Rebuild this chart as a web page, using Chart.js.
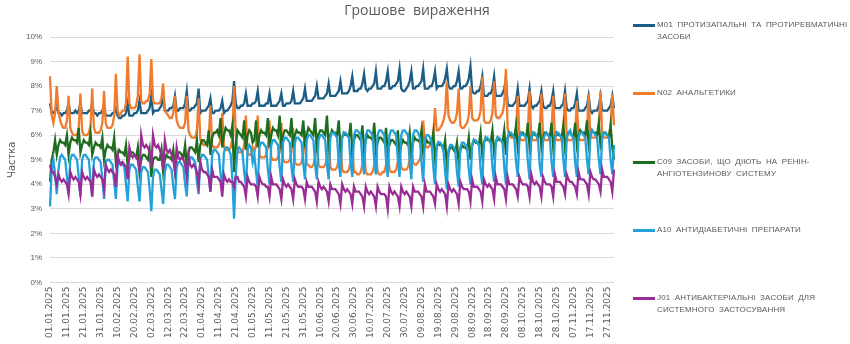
<!DOCTYPE html>
<html lang="uk">
<head>
<meta charset="utf-8">
<title>Грошове вираження</title>
<script src="https://cdn.jsdelivr.net/npm/chart.js@4.4.1/dist/chart.umd.min.js"></script>
<style>
  body { margin: 0; background: #fff; }
  #wrap { position: relative; width: 850px; height: 344px; color: #595959; font-family: "Liberation Sans", sans-serif; }
  #title { position: absolute; top: 0; left: 0; width: 834px; text-align: center; font: 14px "Open Sans", sans-serif; word-spacing: 4px; color: #595959; }
  .leg { position: absolute; left: 633px; font-size: 8px; letter-spacing: 0.15px; word-spacing: 2px; line-height: 12px; }
  .leg i { position: absolute; left: 0; top: 5px; width: 22px; height: 2.5px; }
  .leg span { display: block; margin-left: 24px; white-space: nowrap; }
</style>
</head>
<body>
<div id="wrap">
  <canvas id="shareChart" width="850" height="344"></canvas>
  <div id="title">Грошове вираження</div>
</div>
<script>
// Daily share of money turnover by ATC group, 01.01.2025 - 01.12.2025
const startDay = Date.UTC(2025, 0, 1);
const dayCount = 335;
const days = [];
for (let i = 0; i < dayCount; i++) {
  const d = new Date(startDay + i * 86400000);
  const dd = String(d.getUTCDate()).padStart(2, '0');
  const mm = String(d.getUTCMonth() + 1).padStart(2, '0');
  days.push(dd + '.' + mm + '.' + d.getUTCFullYear());
}

const yTicks = [0, 1, 2, 3, 4, 5, 6, 7, 8, 9, 10];

const seriesNames = [
  ['M01 ПРОТИЗАПАЛЬНІ ТА ПРОТИРЕВМАТИЧНІ', 'ЗАСОБИ'],
  ['N02 АНАЛЬГЕТИКИ'],
  ['C09 ЗАСОБИ, ЩО ДІЮТЬ НА РЕНІН-', 'АНГІОТЕНЗИНОВУ СИСТЕМУ'],
  ['A10 АНТИДІАБЕТИЧНІ ПРЕПАРАТИ'],
  ['J01 АНТИБАКТЕРІАЛЬНІ ЗАСОБИ ДЛЯ', 'СИСТЕМНОГО ЗАСТОСУВАННЯ']
];
const seriesColors = ['#1c5d85', '#f07b2c', '#1e6c1e', '#22a1db', '#9a2c96'];

// one row per week (Mon..Sun), first row starts on Wed 01.01
const m01 = [
  7.3, 6.9, 6.9, 7.0, 7.2,
  6.9, 6.9, 6.8, 6.9, 6.9, 7.0, 7.3,
  6.9, 6.9, 6.9, 7.0, 6.9, 7.0, 7.3,
  6.9, 6.9, 6.9, 6.9, 7.0, 7.0, 7.3,
  6.9, 6.9, 6.8, 6.9, 6.9, 7.0, 7.2,
  6.8, 6.8, 6.8, 6.8, 6.9, 6.9, 7.1,
  6.8, 6.7, 6.7, 6.8, 6.8, 6.9, 7.3,
  6.8, 6.8, 6.8, 6.9, 6.9, 7.0, 7.4,
  6.9, 6.9, 6.9, 6.9, 7.0, 7.1, 7.6,
  6.9, 7.0, 7.0, 7.0, 7.1, 7.2, 7.7,
  7.0, 7.0, 7.0, 7.1, 7.1, 7.2, 7.6,
  7.0, 7.0, 7.1, 7.1, 7.1, 7.3, 7.8,
  7.0, 7.0, 7.1, 7.1, 7.2, 7.3, 7.9,
  6.9, 7.0, 7.0, 7.0, 7.1, 7.2, 7.5,
  6.9, 6.9, 7.0, 7.0, 7.0, 7.1, 7.4,
  6.9, 7.0, 7.0, 7.1, 7.2, 7.4, 8.2,
  7.3, 7.1, 7.1, 7.2, 7.2, 7.3, 7.7,
  7.2, 7.2, 7.2, 7.3, 7.3, 7.4, 7.8,
  7.2, 7.2, 7.2, 7.2, 7.3, 7.3, 7.7,
  7.2, 7.2, 7.2, 7.2, 7.3, 7.4, 7.7,
  7.2, 7.2, 7.3, 7.3, 7.3, 7.4, 7.8,
  7.3, 7.3, 7.3, 7.3, 7.4, 7.5, 7.9,
  7.4, 7.4, 7.4, 7.4, 7.5, 7.6, 8.0,
  7.5, 7.5, 7.5, 7.5, 7.6, 7.7, 8.1,
  7.6, 7.6, 7.6, 7.6, 7.7, 7.8, 8.2,
  7.7, 7.7, 7.7, 7.7, 7.8, 8.0, 8.4,
  7.8, 7.8, 7.8, 7.9, 7.9, 8.1, 8.5,
  7.9, 7.8, 7.9, 7.9, 8.0, 8.1, 8.6,
  7.9, 7.9, 7.9, 8.0, 8.0, 8.2, 8.6,
  7.9, 7.9, 8.0, 8.0, 8.1, 8.2, 8.7,
  7.9, 7.8, 7.8, 7.9, 8.0, 8.2, 8.6,
  7.9, 7.9, 8.0, 8.0, 8.1, 8.2, 8.7,
  7.9, 7.9, 7.9, 8.0, 8.0, 8.2, 8.6,
  7.9, 8.0, 8.0, 8.0, 8.1, 8.3, 8.7,
  8.0, 7.9, 7.9, 8.0, 8.0, 8.2, 8.6,
  7.9, 7.9, 8.0, 8.0, 8.1, 8.3, 8.8,
  7.8, 7.7, 7.7, 7.8, 7.8, 8.0, 8.4,
  7.6, 7.6, 7.6, 7.7, 7.7, 7.9, 8.4,
  7.6, 7.6, 7.6, 7.6, 7.7, 7.9, 8.3,
  7.3, 7.2, 7.2, 7.2, 7.3, 7.4, 7.9,
  7.2, 7.2, 7.2, 7.2, 7.3, 7.4, 7.9,
  7.2, 7.1, 7.2, 7.2, 7.3, 7.4, 7.8,
  7.2, 7.1, 7.1, 7.2, 7.2, 7.4, 7.8,
  7.1, 7.1, 7.1, 7.1, 7.2, 7.3, 7.8,
  7.1, 7.0, 7.0, 7.1, 7.1, 7.3, 7.7,
  7.0, 7.0, 7.0, 7.0, 7.1, 7.2, 7.6,
  7.0, 6.9, 7.0, 7.0, 7.0, 7.2, 7.6,
  7.0, 7.0, 7.0, 7.0, 7.1, 7.2, 7.6,
  7.1
];

const n02 = [
  8.4, 6.8, 6.5, 6.9, 8.0,
  7.0, 6.6, 6.4, 6.3, 6.3, 6.6, 7.6,
  6.3, 6.1, 6.0, 6.0, 6.0, 6.3, 7.7,
  6.2, 6.0, 6.0, 6.0, 6.1, 6.4, 7.9,
  6.3, 6.1, 6.1, 6.1, 6.2, 6.5, 7.8,
  6.5, 6.3, 6.3, 6.3, 6.4, 6.8, 8.5,
  7.0, 6.8, 6.9, 7.0, 7.0, 7.3, 9.2,
  7.3, 7.1, 7.1, 7.1, 7.2, 7.6, 9.3,
  7.4, 7.3, 7.3, 7.4, 7.4, 7.7, 9.1,
  7.4, 7.3, 7.3, 7.3, 7.3, 7.5, 8.1,
  7.0, 6.9, 6.8, 6.7, 6.7, 6.9, 7.6,
  6.6, 6.4, 6.3, 6.3, 6.3, 6.5, 7.6,
  6.2, 6.0, 5.9, 5.9, 5.9, 6.2, 7.5,
  5.8, 5.7, 5.6, 5.6, 5.7, 5.9, 7.2,
  5.6, 5.5, 5.5, 5.5, 5.6, 5.8, 6.9,
  5.5, 5.4, 5.4, 5.4, 5.5, 5.9, 8.0,
  6.0, 5.4, 5.3, 5.3, 5.3, 5.6, 6.8,
  5.3, 5.2, 5.2, 5.5, 5.3, 5.6, 6.8,
  5.2, 5.1, 5.1, 5.1, 5.2, 5.5, 6.6,
  5.1, 5.0, 5.0, 5.0, 5.1, 5.4, 6.5,
  5.0, 4.9, 4.9, 4.9, 5.0, 5.3, 6.3,
  4.9, 4.8, 4.8, 4.8, 4.9, 5.2, 6.2,
  4.8, 4.8, 4.7, 4.7, 4.8, 5.1, 6.1,
  4.8, 4.7, 4.7, 4.7, 4.8, 5.0, 5.9,
  4.7, 4.6, 4.6, 4.6, 4.7, 5.0, 5.8,
  4.6, 4.5, 4.5, 4.5, 4.6, 4.9, 5.6,
  4.5, 4.5, 4.4, 4.4, 4.5, 4.8, 5.5,
  4.5, 4.4, 4.4, 4.4, 4.5, 4.8, 5.4,
  4.5, 4.4, 4.4, 4.5, 4.5, 4.8, 5.4,
  4.6, 4.5, 4.5, 4.5, 4.6, 4.9, 5.3,
  4.7, 4.6, 4.6, 4.6, 4.7, 5.0, 5.4,
  4.9, 4.8, 4.8, 4.9, 5.0, 5.4, 6.6,
  5.6, 5.5, 5.5, 5.6, 5.7, 6.0, 7.1,
  6.2, 6.2, 6.3, 6.4, 6.6, 6.9, 8.2,
  6.8, 6.6, 6.5, 6.5, 6.6, 6.9, 7.9,
  6.4, 6.3, 6.3, 6.4, 6.5, 6.8, 8.0,
  6.7, 6.6, 6.6, 6.6, 6.7, 7.0, 8.4,
  6.6, 6.5, 6.5, 6.5, 6.6, 6.9, 8.2,
  6.8, 6.7, 6.7, 6.8, 6.9, 7.3, 8.7,
  6.3, 6.0, 5.9, 5.9, 5.9, 6.2, 7.6,
  5.9, 5.8, 5.8, 5.8, 5.9, 6.2, 7.8,
  5.9, 5.8, 5.8, 5.8, 5.9, 6.2, 7.7,
  5.9, 5.8, 5.8, 5.8, 5.9, 6.2, 7.6,
  5.9, 5.8, 5.8, 5.8, 5.9, 6.2, 7.7,
  5.9, 5.8, 5.8, 5.8, 5.9, 6.1, 7.4,
  5.9, 5.8, 5.8, 5.8, 5.9, 6.2, 7.7,
  5.9, 5.9, 5.9, 5.9, 6.0, 6.3, 7.8,
  6.0, 5.9, 5.9, 5.9, 6.0, 6.4, 7.7,
  6.4
];

const c09 = [
  4.1, 5.0, 5.3, 5.8, 5.2,
  5.6, 5.8, 5.7, 5.7, 5.6, 6.0, 5.2,
  5.7, 5.9, 5.8, 5.8, 5.7, 6.3, 5.3,
  5.6, 5.8, 5.7, 5.7, 5.6, 6.1, 5.2,
  5.5, 5.7, 5.6, 5.6, 5.5, 5.9, 5.0,
  5.4, 5.6, 5.5, 5.5, 5.4, 5.9, 4.9,
  5.2, 5.4, 5.3, 5.3, 5.2, 5.6, 4.7,
  5.1, 5.3, 5.3, 5.2, 5.1, 5.5, 4.5,
  5.0, 5.2, 5.2, 5.1, 5.0, 5.4, 4.3,
  5.0, 5.1, 5.1, 5.0, 5.0, 5.4, 4.5,
  5.0, 5.2, 5.1, 5.1, 5.0, 5.4, 4.6,
  5.1, 5.3, 5.3, 5.2, 5.1, 5.6, 4.7,
  5.3, 5.5, 5.5, 5.4, 5.3, 5.8, 4.9,
  5.6, 5.8, 5.8, 5.7, 5.6, 6.2, 5.2,
  5.9, 6.1, 6.1, 6.2, 6.0, 6.7, 5.5,
  6.0, 6.3, 6.2, 6.2, 6.0, 6.4, 4.5,
  5.6, 6.2, 6.1, 6.0, 5.9, 6.6, 5.4,
  6.0, 6.2, 6.1, 5.7, 5.8, 6.6, 5.5,
  6.0, 6.2, 6.1, 6.1, 6.0, 6.7, 5.5,
  6.0, 6.3, 6.2, 6.2, 6.0, 6.8, 5.6,
  6.0, 6.2, 6.2, 6.1, 6.0, 6.7, 5.5,
  6.0, 6.2, 6.1, 6.1, 6.0, 6.6, 5.5,
  6.0, 6.3, 6.2, 6.1, 6.0, 6.7, 5.6,
  6.0, 6.2, 6.2, 6.1, 6.0, 6.8, 5.6,
  6.0, 6.2, 6.1, 6.1, 6.0, 6.6, 5.5,
  5.9, 6.1, 6.0, 6.0, 5.9, 6.5, 5.4,
  5.8, 6.0, 6.0, 5.9, 5.8, 6.4, 5.4,
  5.8, 6.0, 5.9, 5.9, 5.8, 6.5, 5.4,
  5.7, 5.9, 5.9, 5.8, 5.7, 6.3, 5.3,
  5.6, 5.8, 5.8, 5.7, 5.6, 6.2, 5.2,
  5.6, 5.8, 5.7, 5.7, 5.6, 6.1, 5.2,
  5.7, 5.9, 5.8, 5.8, 5.7, 6.2, 5.3,
  5.6, 5.8, 5.7, 5.7, 5.6, 6.1, 5.1,
  5.5, 5.7, 5.6, 5.6, 5.4, 5.8, 4.8,
  5.3, 5.5, 5.5, 5.4, 5.3, 5.7, 4.9,
  5.4, 5.6, 5.5, 5.5, 5.4, 5.9, 5.0,
  5.6, 5.8, 5.7, 5.7, 5.6, 6.1, 5.2,
  5.7, 5.9, 5.8, 5.8, 5.7, 6.2, 5.3,
  5.7, 5.9, 5.8, 5.8, 5.7, 6.2, 5.2,
  5.9, 6.1, 6.0, 6.0, 5.9, 6.4, 5.5,
  5.9, 6.1, 6.1, 6.0, 5.9, 6.5, 5.5,
  5.9, 6.1, 6.0, 6.0, 5.9, 6.5, 5.5,
  5.9, 6.1, 6.1, 6.0, 5.9, 6.5, 5.5,
  5.9, 6.1, 6.0, 6.0, 5.9, 6.4, 5.5,
  5.9, 6.1, 6.1, 6.0, 5.9, 6.5, 5.6,
  6.0, 6.2, 6.1, 6.1, 6.0, 6.6, 5.6,
  6.0, 6.2, 6.1, 6.1, 6.0, 6.5, 5.6,
  5.9, 6.1, 6.1, 6.0, 5.9, 6.4, 5.5,
  5.0
];

const a10 = [
  3.1, 4.6, 5.0, 4.4, 3.6,
  4.6, 5.1, 5.2, 5.1, 5.0, 4.3, 3.6,
  5.0, 5.2, 5.2, 5.1, 5.0, 4.3, 3.5,
  5.0, 5.2, 5.2, 5.1, 5.0, 4.2, 3.5,
  5.0, 5.1, 5.1, 5.0, 4.9, 4.2, 3.4,
  4.9, 5.0, 5.0, 4.9, 4.8, 4.1, 3.4,
  4.7, 4.9, 4.9, 4.8, 4.7, 4.0, 3.3,
  4.6, 4.8, 4.8, 4.7, 4.6, 3.9, 3.3,
  4.5, 4.7, 4.7, 4.6, 4.5, 3.8, 2.9,
  4.3, 4.6, 4.6, 4.5, 4.4, 3.8, 3.2,
  4.5, 4.8, 4.8, 4.7, 4.6, 3.9, 3.4,
  4.7, 4.9, 4.9, 4.8, 4.7, 4.0, 3.5,
  4.9, 5.1, 5.1, 5.0, 4.9, 4.1, 3.6,
  5.0, 5.2, 5.2, 5.1, 5.0, 4.3, 3.7,
  5.2, 5.4, 5.4, 5.3, 5.2, 4.4, 3.8,
  5.3, 5.5, 5.5, 5.4, 5.2, 4.2, 2.6,
  4.4, 5.4, 5.5, 5.4, 5.3, 4.5, 3.9,
  5.4, 5.6, 5.5, 4.9, 5.2, 4.5, 3.9,
  5.5, 5.7, 5.7, 5.6, 5.5, 4.6, 4.0,
  5.6, 5.8, 5.8, 5.7, 5.6, 4.7, 4.1,
  5.7, 5.9, 5.9, 5.8, 5.7, 4.7, 4.1,
  5.7, 5.9, 5.9, 5.8, 5.7, 4.8, 4.2,
  5.8, 6.0, 6.0, 5.9, 5.8, 4.8, 4.2,
  5.8, 6.0, 6.0, 5.9, 5.8, 4.8, 4.2,
  5.9, 6.1, 6.1, 6.0, 5.9, 4.9, 4.3,
  5.9, 6.1, 6.1, 6.0, 5.9, 4.9, 4.3,
  6.0, 6.2, 6.2, 6.1, 6.0, 5.0, 4.4,
  6.0, 6.2, 6.2, 6.1, 6.0, 5.0, 4.4,
  6.0, 6.2, 6.2, 6.1, 6.0, 5.0, 4.3,
  6.0, 6.2, 6.2, 6.1, 6.0, 5.0, 4.3,
  6.0, 6.2, 6.2, 6.1, 6.0, 4.9, 4.2,
  6.0, 6.2, 6.2, 6.1, 5.9, 4.9, 4.1,
  5.8, 6.0, 6.0, 5.9, 5.7, 4.7, 4.0,
  5.6, 5.7, 5.7, 5.6, 5.4, 4.5, 3.8,
  5.4, 5.6, 5.6, 5.5, 5.4, 4.5, 3.9,
  5.5, 5.7, 5.7, 5.6, 5.5, 4.6, 4.0,
  5.6, 5.8, 5.8, 5.7, 5.6, 4.6, 4.0,
  5.7, 5.9, 5.9, 5.8, 5.7, 4.7, 4.1,
  5.7, 5.9, 5.9, 5.8, 5.7, 4.7, 4.0,
  5.9, 6.1, 6.1, 6.0, 5.9, 4.9, 4.3,
  5.9, 6.1, 6.0, 6.0, 5.9, 4.9, 4.2,
  5.9, 6.1, 6.1, 6.0, 5.8, 4.8, 4.3,
  5.8, 6.0, 6.1, 6.0, 5.9, 4.9, 4.3,
  5.9, 6.1, 6.1, 6.0, 5.9, 5.0, 4.3,
  5.9, 6.1, 6.2, 6.0, 5.9, 4.9, 4.3,
  5.9, 6.1, 6.1, 6.0, 5.9, 5.0, 4.4,
  6.0, 6.2, 6.1, 6.0, 5.9, 5.0, 4.4,
  5.9, 6.1, 6.1, 6.0, 5.9, 5.0, 4.4,
  5.6
];

const j01 = [
  4.8, 4.5, 4.5, 4.3, 4.0,
  4.4, 4.2, 4.1, 4.2, 4.1, 4.0, 3.6,
  4.5, 4.3, 4.2, 4.3, 4.2, 4.1, 3.6,
  4.5, 4.3, 4.2, 4.3, 4.2, 4.1, 3.5,
  4.6, 4.4, 4.3, 4.4, 4.3, 4.2, 3.8,
  4.8, 4.6, 4.5, 4.6, 4.5, 4.4, 3.9,
  5.2, 4.9, 4.8, 4.9, 4.8, 4.7, 4.2,
  5.5, 5.2, 5.1, 5.2, 5.1, 5.0, 4.5,
  6.0, 5.6, 5.5, 5.6, 5.5, 5.3, 4.7,
  6.0, 5.6, 5.5, 5.6, 5.4, 5.2, 4.6,
  5.8, 5.4, 5.3, 5.4, 5.2, 5.0, 4.5,
  5.5, 5.1, 5.0, 5.1, 5.0, 4.8, 4.3,
  5.2, 4.8, 4.7, 4.8, 4.7, 4.5, 4.0,
  4.9, 4.6, 4.5, 4.5, 4.4, 4.3, 3.7,
  4.6, 4.3, 4.3, 4.3, 4.2, 4.1, 3.5,
  4.4, 4.2, 4.1, 4.2, 4.1, 4.1, 3.9,
  4.3, 4.3, 4.1, 4.1, 4.0, 3.9, 3.5,
  4.3, 4.1, 4.0, 4.0, 4.0, 3.9, 3.5,
  4.3, 4.1, 4.0, 4.0, 3.9, 3.9, 3.5,
  4.3, 4.0, 4.0, 4.0, 3.9, 3.8, 3.4,
  4.2, 4.0, 3.9, 4.0, 3.9, 3.8, 3.4,
  4.2, 4.0, 3.9, 3.9, 3.9, 3.8, 3.4,
  4.1, 3.9, 3.9, 3.9, 3.8, 3.7, 3.3,
  4.1, 3.9, 3.8, 3.9, 3.8, 3.7, 3.3,
  4.0, 3.8, 3.8, 3.8, 3.7, 3.6, 3.2,
  4.0, 3.8, 3.7, 3.8, 3.7, 3.6, 3.2,
  3.9, 3.7, 3.7, 3.7, 3.6, 3.5, 3.1,
  3.9, 3.7, 3.6, 3.7, 3.6, 3.5, 3.1,
  3.9, 3.7, 3.6, 3.6, 3.6, 3.5, 3.0,
  3.9, 3.7, 3.6, 3.7, 3.6, 3.5, 3.1,
  3.9, 3.7, 3.6, 3.7, 3.6, 3.5, 3.1,
  3.9, 3.7, 3.7, 3.7, 3.6, 3.5, 3.1,
  4.0, 3.7, 3.7, 3.7, 3.6, 3.5, 3.2,
  4.0, 3.8, 3.7, 3.8, 3.7, 3.6, 3.1,
  4.0, 3.8, 3.7, 3.8, 3.7, 3.6, 3.2,
  4.1, 3.9, 3.8, 3.8, 3.8, 3.7, 3.3,
  4.2, 3.9, 3.9, 3.9, 3.8, 3.7, 3.3,
  4.2, 4.0, 3.9, 4.0, 3.9, 3.8, 3.4,
  4.3, 4.0, 4.0, 4.0, 3.9, 3.8, 3.4,
  4.3, 4.0, 4.0, 4.0, 3.9, 3.8, 3.5,
  4.3, 4.1, 4.0, 4.0, 4.0, 3.9, 3.5,
  4.4, 4.1, 4.0, 4.1, 4.0, 3.9, 3.5,
  4.3, 4.1, 4.0, 4.0, 4.0, 3.9, 3.5,
  4.4, 4.1, 4.1, 4.1, 4.0, 3.9, 3.6,
  4.4, 4.2, 4.1, 4.1, 4.0, 3.9, 3.6,
  4.5, 4.2, 4.2, 4.2, 4.1, 4.0, 3.6,
  4.5, 4.3, 4.2, 4.2, 4.1, 4.0, 3.7,
  4.6, 4.3, 4.3, 4.3, 4.2, 4.1, 3.7,
  4.6
];

const seriesValues = [m01, n02, c09, a10, j01];

const ctx = document.getElementById('shareChart').getContext('2d');
const shareChart = new Chart(ctx, {
  type: 'line',
  data: {
    labels: days,
    datasets: seriesValues.map((vals, i) => ({
      label: seriesNames[i].join(' '),
      data: vals,
      borderColor: seriesColors[i],
      backgroundColor: seriesColors[i],
      borderWidth: 2.3,
      pointRadius: 0,
      tension: 0,
      fill: false,
      order: 4 - i
    }))
  },
  options: {
    responsive: false,
    animation: false,
    layout: { padding: { top: 37, right: 236, bottom: 2, left: 6 } },
    plugins: {
      legend: { display: false },
      tooltip: { enabled: false }
    },
    scales: {
      x: {
        grid: { display: false, drawTicks: false },
        border: { display: false },
        ticks: {
          autoSkip: false,
          maxRotation: 90,
          minRotation: 90,
          padding: 4,
          color: '#595959',
          font: { family: 'DejaVu Sans', size: 9 },
          callback: function (v, i) {
            return i % 10 === 0 ? this.getLabelForValue(v) : '';
          }
        }
      },
      y: {
        min: yTicks[0],
        max: yTicks[yTicks.length - 1],
        afterBuildTicks: axis => { axis.ticks = yTicks.map(v => ({ value: v })); },
        grid: { color: '#d9d9d9', lineWidth: 1, drawTicks: false },
        border: { display: false },
        ticks: {
          padding: 8,
          color: '#595959',
          font: { family: 'Liberation Sans', size: 8 },
          callback: v => v + '%'
        },
        title: {
          display: true,
          text: 'Частка',
          color: '#595959',
          font: { family: 'DejaVu Sans', size: 10 },
          padding: { top: 0, bottom: 0 }
        }
      }
    }
  }
});

// side legend with wrapped names
const wrap = document.getElementById('wrap');
const legendTops = [19, 87, 156, 224, 292];
seriesNames.forEach((lines, i) => {
  const item = document.createElement('div');
  item.className = 'leg';
  item.style.top = legendTops[i] + 'px';
  item.innerHTML = '<i style="background:' + seriesColors[i] + '"></i>' +
    lines.map(t => '<span>' + t + '</span>').join('');
  wrap.appendChild(item);
});
</script>
</body>
</html>
